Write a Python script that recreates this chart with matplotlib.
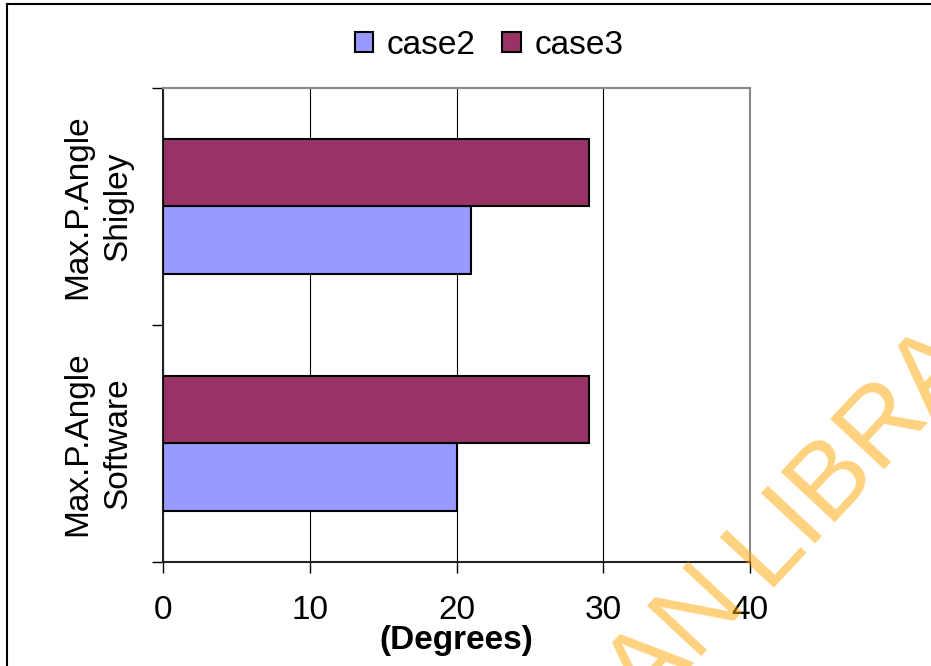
import numpy as np
import matplotlib
matplotlib.use("Agg")
import matplotlib.pyplot as plt
from matplotlib.lines import Line2D

plt.rcParams['font.family'] = ['Liberation Sans', 'DejaVu Sans']

# data (bottom to top)
categories = ["Max.P.Angle\nSoftware", "Max.P.Angle\nShigley"]
case2 = [20, 21]
case3 = [29, 29]
series_names = ["case2", "case3"]
colors = ["#9999FF", "#993366"]
x_ticks = [0, 10, 20, 30, 40]

fs = 24

fig = plt.figure(figsize=(9.31, 6.66), dpi=100)
ax = fig.add_axes([0.1751, 0.1562, 0.6305, 0.7117])

y = np.arange(len(categories))
h = 0.283

ax.barh(y - h / 2, case2, height=h, color=colors[0], edgecolor='black',
        linewidth=1.5, label=series_names[0], zorder=3)
ax.barh(y + h / 2, case3, height=h, color=colors[1], edgecolor='black',
        linewidth=1.5, label=series_names[1], zorder=3)

ax.set_xlim(0, 40)
ax.set_ylim(-0.5, 1.5)

# x axis
ax.set_xticks(x_ticks)
ax.set_xticklabels([str(t) for t in x_ticks], fontsize=fs)
ax.tick_params(axis='x', direction='out', length=8, width=1, pad=16)
ax.set_xlabel("(Degrees)", fontsize=fs, fontweight='bold', labelpad=-1)

# y axis: ticks between categories, labels centered on them
ax.set_yticks([-0.5, 0.5, 1.5])
ax.set_yticklabels([])
ax.tick_params(axis='y', which='major', direction='out', length=8, width=1)
ax.set_yticks(y, minor=True)
ax.set_yticklabels(categories, minor=True, fontsize=fs, rotation=90,
                   va='center', ha='center', multialignment='center',
                   linespacing=1.4)
ax.tick_params(axis='y', which='minor', length=0, pad=47)

# vertical grid
ax.grid(axis='x', color='black', linewidth=0.8, zorder=0)
ax.set_axisbelow(True)

for side in ['left', 'bottom']:
    ax.spines[side].set_color('#222222')
    ax.spines[side].set_linewidth(1.5)
for side in ['top', 'right']:
    ax.spines[side].set_color('#888888')
    ax.spines[side].set_linewidth(1.5)

# legend across the top
fig.legend(loc='center', bbox_to_anchor=(489 / 931, 1 - 45 / 666), ncol=2,
           frameon=False, fontsize=fs, handlelength=0.56, handleheight=0.56,
           handletextpad=0.4, columnspacing=0.8)

# outer frame (left and top edges)
fig.add_artist(Line2D([7 / 931, 7 / 931], [0, 1 - 4 / 666], color='black',
                      linewidth=1.5, transform=fig.transFigure))
fig.add_artist(Line2D([7 / 931, 1], [1 - 4 / 666, 1 - 4 / 666], color='black',
                      linewidth=1.5, transform=fig.transFigure))

# library stamp
ang = 47
wm = dict(fontsize=78, color='orange', alpha=0.5, rotation=ang,
          rotation_mode='anchor', va='baseline', zorder=10)
x0, y0 = 765, 588
fig.text(x0 / 931, 1 - y0 / 666, "LIBRARY", ha='left', **wm)
d = 24
fig.text((x0 - d * np.cos(np.radians(ang))) / 931,
         1 - (y0 + d * np.sin(np.radians(ang))) / 666,
         "UNIVERSITY OF IBADAN", ha='right', **wm)

fig.savefig("out.png", dpi=100)
